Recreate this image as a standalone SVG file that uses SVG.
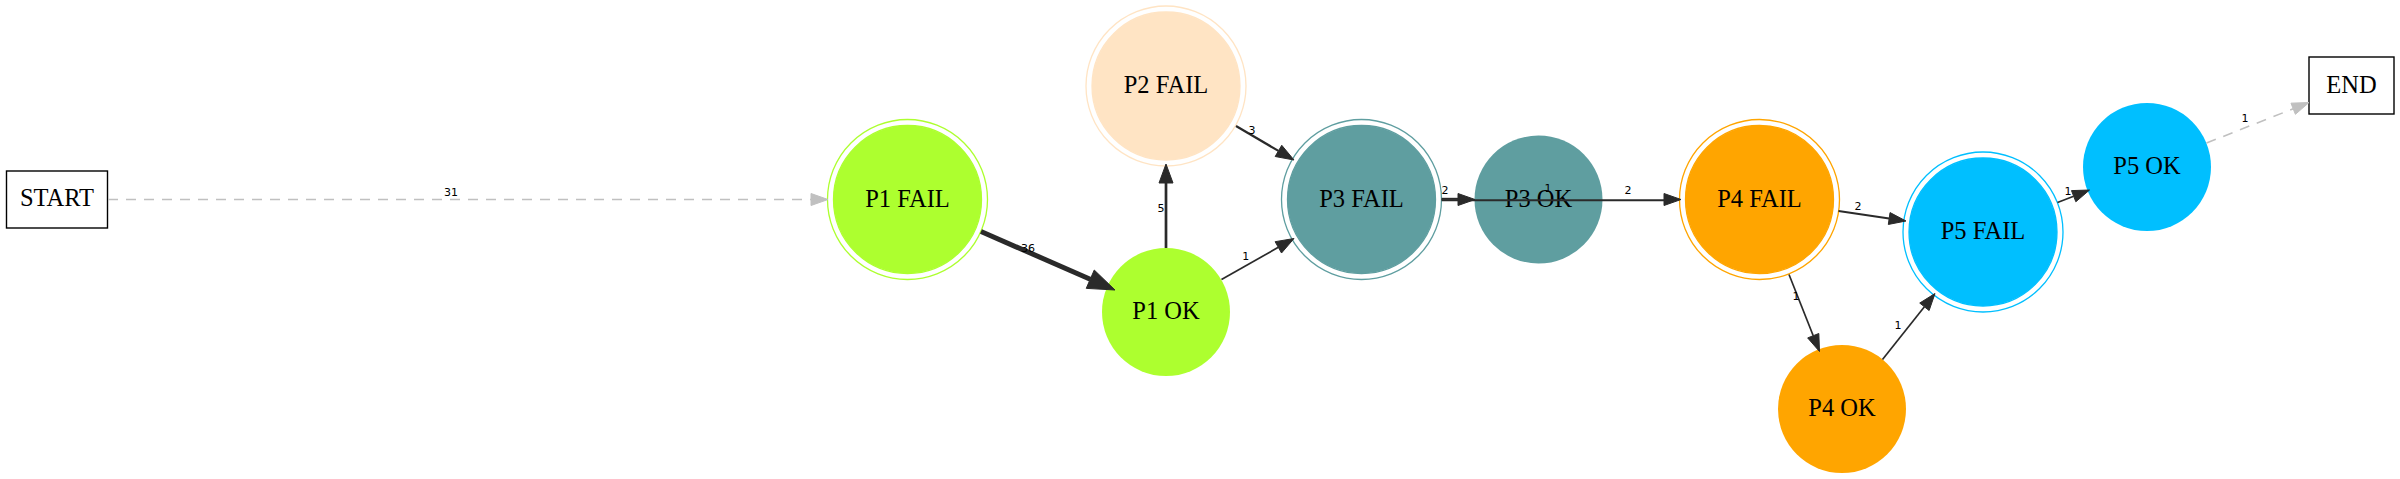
<svg xmlns="http://www.w3.org/2000/svg" width="2400" height="479" viewBox="0 0 2400 479">
<style>
.nl{font-family:"Liberation Serif","Times New Roman",serif;font-size:24.5px;fill:#000;text-anchor:middle}
.el{font-family:"DejaVu Sans","Liberation Sans",sans-serif;font-size:11px;fill:#000;text-anchor:middle}
.box{fill:#fff;stroke:#000;stroke-width:1.4}
.e{stroke:#2a2a2a;fill:none}
.h{fill:#2a2a2a;stroke:#2a2a2a;stroke-width:1}
.ge{stroke:#c0c0c0;fill:none;stroke-width:1.6;stroke-dasharray:10,8}
.gh{fill:#c0c0c0;stroke:#c0c0c0;stroke-width:1}
</style>
<rect width="2400" height="479" fill="#fff"/>
<g id="START">
<rect class="box" x="6.5" y="171" width="101" height="57"/>
<text class="nl" x="57" y="206">START</text>
</g>
<g id="P1_FAIL">
<circle cx="907.5" cy="199.5" r="80" fill="none" stroke="#adff2f" stroke-width="1.3"/>
<circle cx="907.5" cy="199.5" r="74" fill="#adff2f" stroke="#adff2f" stroke-width="1.3"/>
<text class="nl" x="907.5" y="206.5">P1 FAIL</text>
</g>
<g id="P2_FAIL">
<circle cx="1166" cy="86" r="80" fill="none" stroke="#ffe4c4" stroke-width="1.3"/>
<circle cx="1166" cy="86" r="74" fill="#ffe4c4" stroke="#ffe4c4" stroke-width="1.3"/>
<text class="nl" x="1166" y="93">P2 FAIL</text>
</g>
<g id="P1_OK">
<circle cx="1166" cy="312" r="64" fill="#adff2f"/>
<text class="nl" x="1166" y="319">P1 OK</text>
</g>
<g id="P3_FAIL">
<circle cx="1361.5" cy="199.5" r="80" fill="none" stroke="#5f9ea0" stroke-width="1.3"/>
<circle cx="1361.5" cy="199.5" r="74" fill="#5f9ea0" stroke="#5f9ea0" stroke-width="1.3"/>
<text class="nl" x="1361.5" y="206.5">P3 FAIL</text>
</g>
<g id="P3_OK">
<circle cx="1538.5" cy="199.5" r="64" fill="#5f9ea0"/>
<text class="nl" x="1538.5" y="206.5">P3 OK</text>
</g>
<g id="P4_FAIL">
<circle cx="1759.5" cy="199.5" r="80" fill="none" stroke="#ffa500" stroke-width="1.3"/>
<circle cx="1759.5" cy="199.5" r="74" fill="#ffa500" stroke="#ffa500" stroke-width="1.3"/>
<text class="nl" x="1759.5" y="206.5">P4 FAIL</text>
</g>
<g id="P4_OK">
<circle cx="1842" cy="409" r="64" fill="#ffa500"/>
<text class="nl" x="1842" y="416">P4 OK</text>
</g>
<g id="P5_FAIL">
<circle cx="1983" cy="232" r="80" fill="none" stroke="#00bfff" stroke-width="1.3"/>
<circle cx="1983" cy="232" r="74" fill="#00bfff" stroke="#00bfff" stroke-width="1.3"/>
<text class="nl" x="1983" y="239">P5 FAIL</text>
</g>
<g id="P5_OK">
<circle cx="2147" cy="167" r="64" fill="#00bfff"/>
<text class="nl" x="2147" y="174">P5 OK</text>
</g>
<g id="END">
<rect class="box" x="2309" y="57" width="85" height="57"/>
<text class="nl" x="2351.5" y="93">END</text>
</g>
<g id="connectors">
<line class="ge" x1="108" y1="199.5" x2="811" y2="199.5"/>
<polygon class="gh" points="828,199.5 811,193.5 811,205.5"/>
<text class="el" x="451" y="196">31</text>
<line class="e" stroke-width="5" x1="981" y1="231.5" x2="1090.25" y2="279.2"/>
<polygon class="h" points="1115,290 1086.25,288.37 1094.25,270.03"/>
<text class="el" x="1028" y="251.5">36</text>
<line class="e" stroke-width="2.7" x1="1166" y1="248" x2="1166" y2="183"/>
<polygon class="h" points="1166,164 1159,183 1173,183"/>
<text class="el" x="1161" y="212">5</text>
<line class="e" stroke-width="2.2" x1="1236" y1="126" x2="1278.47" y2="150.9"/>
<polygon class="h" points="1294,160 1275.18,156.51 1281.76,145.29"/>
<text class="el" x="1252" y="134">3</text>
<line class="e" stroke-width="1.7" x1="1221.5" y1="279.5" x2="1278.33" y2="247.36"/>
<polygon class="h" points="1294,238.5 1281.53,253.02 1275.13,241.7"/>
<text class="el" x="1245.7" y="260">1</text>
<line class="e" stroke-width="2" x1="1441.5" y1="198.8" x2="1458" y2="198.8"/>
<polygon class="h" points="1475,199.5 1458,193.5 1458,205.5"/>
<text class="el" x="1445" y="194">2</text>
<line class="e" stroke-width="2" x1="1441.5" y1="200.3" x2="1664" y2="200.3"/>
<polygon class="h" points="1681,199.5 1664,193.5 1664,205.5"/>
<text class="el" x="1548" y="192">1</text>
<text class="el" x="1628" y="194">2</text>
<line class="e" stroke-width="2" x1="1838.5" y1="211" x2="1889.18" y2="218.51"/>
<polygon class="h" points="1906,221 1888.3,224.45 1890.06,212.57"/>
<text class="el" x="1858" y="210">2</text>
<line class="e" stroke-width="1.7" x1="1789" y1="274.5" x2="1813.24" y2="335.7"/>
<polygon class="h" points="1819.5,351.5 1807.66,337.91 1818.82,333.49"/>
<text class="el" x="1796" y="300">1</text>
<line class="e" stroke-width="1.7" x1="1882.5" y1="359.5" x2="1924.42" y2="306.8"/>
<polygon class="h" points="1935,293.5 1929.12,310.54 1919.72,303.06"/>
<text class="el" x="1898" y="329">1</text>
<line class="e" stroke-width="1.7" x1="2057.5" y1="202.5" x2="2073.66" y2="196.19"/>
<polygon class="h" points="2089.5,190 2075.84,201.78 2071.48,190.6"/>
<text class="el" x="2068" y="195">1</text>
<line class="ge" x1="2206.5" y1="143" x2="2293.19" y2="108.75"/>
<polygon class="gh" points="2309,102.5 2295.39,114.33 2290.99,103.17"/>
<text class="el" x="2245" y="121.5">1</text>
</g>
</svg>
